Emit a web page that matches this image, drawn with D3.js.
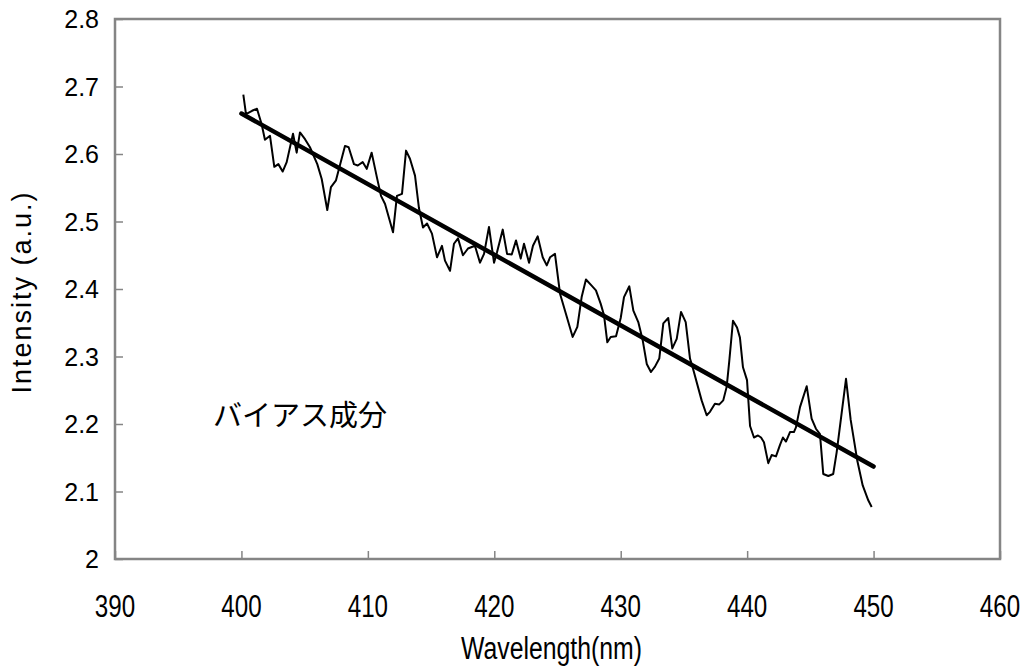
<!DOCTYPE html>
<html>
<head>
<meta charset="utf-8">
<script src="https://cdn.jsdelivr.net/npm/d3@7"></script>
<style>
  body { margin: 0; background: #fff; }
  svg { display: block; }
</style>
</head>
<body>
<svg id="chart" width="1028" height="668"></svg>
<script>
// measured spectrum (nm)
let wavelength = [400.15,400.36,400.84,401.23,401.60,401.86,402.26,402.60,402.92,403.26,403.58,404.08,404.37,404.63,405.03,405.42,406.00,406.35,406.79,407.08,407.48,408.19,408.48,408.90,409.20,409.59,409.91,410.30,410.72,411.04,411.36,411.99,412.30,412.70,413.02,413.33,413.73,414.04,414.36,414.68,415.07,415.47,415.86,416.10,416.50,416.81,417.13,417.52,417.92,418.47,418.87,419.19,419.58,419.98,420.21,420.67,421.01,421.38,421.72,422.09,422.35,422.75,423.06,423.43,423.83,424.15,424.41,424.80,425.20,425.67,426.20,426.57,426.91,427.25,427.70,428.04,428.42,428.68,428.94,429.21,429.63,430.00,430.26,430.68,431.00,431.39,431.74,432.06,432.39,432.71,433.05,433.37,433.76,434.08,434.43,434.77,435.14,435.48,435.72,436.40,436.80,437.06,437.45,437.80,438.11,438.38,438.59,438.88,439.20,439.43,439.67,439.99,440.23,440.54,440.86,441.10,441.33,441.67,441.94,442.28,442.60,442.83,443.07,443.39,443.70,443.86,444.18,444.71,445.10,445.44,445.76,446.02,446.42,446.81,447.08,447.82,448.19,448.71,449.14,449.58,449.85]
let intensity = [2.688,2.659,2.664,2.667,2.644,2.621,2.627,2.581,2.585,2.574,2.588,2.630,2.602,2.632,2.622,2.610,2.585,2.563,2.517,2.551,2.561,2.612,2.610,2.585,2.583,2.588,2.578,2.602,2.565,2.538,2.526,2.484,2.538,2.541,2.605,2.593,2.568,2.520,2.491,2.497,2.482,2.447,2.464,2.442,2.427,2.467,2.475,2.450,2.460,2.464,2.439,2.452,2.492,2.439,2.454,2.488,2.452,2.451,2.472,2.445,2.467,2.439,2.464,2.478,2.447,2.435,2.447,2.452,2.393,2.363,2.329,2.344,2.388,2.414,2.405,2.398,2.378,2.361,2.321,2.329,2.330,2.357,2.388,2.404,2.368,2.351,2.324,2.289,2.277,2.285,2.297,2.349,2.357,2.312,2.326,2.366,2.351,2.297,2.282,2.235,2.213,2.218,2.230,2.229,2.235,2.255,2.294,2.353,2.343,2.328,2.284,2.265,2.197,2.180,2.183,2.180,2.173,2.142,2.154,2.152,2.169,2.180,2.174,2.188,2.188,2.195,2.225,2.256,2.208,2.193,2.185,2.126,2.123,2.126,2.158,2.267,2.206,2.146,2.109,2.087,2.077]

// linear bias component
let fitX = [400, 450]
let fitY = [2.660, 2.137]

let xTicks = [390, 400, 410, 420, 430, 440, 450, 460]
let yTicks = [2, 2.1, 2.2, 2.3, 2.4, 2.5, 2.6, 2.7, 2.8]

let svg = d3.select("#chart")
let plotLeft = 115, plotTop = 19, plotRight = 1000, plotBottom = 559
let frameColor = "#858585"
let narrowFont = "'Liberation Sans', Arial, sans-serif"

let x = d3.scaleLinear().domain([390, 460]).range([plotLeft, plotRight])
let y = d3.scaleLinear().domain([2, 2.8]).range([plotBottom, plotTop])

// ticks point inward
let xAxis = d3.axisTop(x).tickValues(xTicks).tickSize(8).tickFormat("")
let yAxis = d3.axisRight(y).tickValues(yTicks).tickSize(8).tickFormat("")

svg.append("g").attr("transform", "translate(0," + plotBottom + ")").call(xAxis)
svg.append("g").attr("transform", "translate(" + plotLeft + ",0)").call(yAxis)
svg.selectAll(".domain").remove()
svg.selectAll(".tick line").attr("stroke", frameColor).attr("stroke-width", 1.5)

svg.append("rect")
  .attr("x", plotLeft).attr("y", plotTop)
  .attr("width", plotRight - plotLeft).attr("height", plotBottom - plotTop)
  .attr("fill", "none").attr("stroke", frameColor).attr("stroke-width", 2.5)

// condensed gothic look for x labels
svg.selectAll(".xlab").data(xTicks).enter().append("text")
  .attr("transform", d => "translate(" + x(d) + "," + (plotBottom + 58) + ") scale(0.78,1)")
  .attr("text-anchor", "middle")
  .style("font-family", narrowFont)
  .style("font-size", "31px")
  .text(d => d)

svg.selectAll(".ylab").data(yTicks).enter().append("text")
  .attr("x", plotLeft - 16).attr("y", d => y(d) + 9)
  .attr("text-anchor", "end")
  .style("font-family", "'Liberation Sans', Arial, sans-serif")
  .style("font-size", "25px")
  .text(d => d3.format(".1~f")(d))

svg.append("text")
  .attr("transform", "translate(" + ((plotLeft + plotRight) / 2 - 6) + ",659) scale(0.8,1)")
  .attr("text-anchor", "middle")
  .style("font-family", narrowFont)
  .style("font-size", "31px")
  .text("Wavelength(nm)")

svg.append("text")
  .attr("transform", "translate(31,292) rotate(-90)")
  .attr("text-anchor", "middle")
  .style("font-family", "'Liberation Sans', Arial, sans-serif")
  .style("font-size", "27px")
  .style("letter-spacing", "2px")
  .text("Intensity (a.u.)")

let line = d3.line().x(d => x(d[0])).y(d => y(d[1]))

svg.append("path")
  .datum(d3.zip(wavelength, intensity))
  .attr("d", line)
  .attr("fill", "none").attr("stroke", "#000").attr("stroke-width", 2)
  .attr("stroke-linejoin", "round")

svg.append("path")
  .datum(d3.zip(fitX, fitY))
  .attr("d", line)
  .attr("fill", "none").attr("stroke", "#000").attr("stroke-width", 4.5)
  .attr("stroke-linecap", "round")

svg.append("text")
  .attr("x", 213).attr("y", 426)
  .style("font-family", "'Noto Sans CJK JP', sans-serif")
  .style("font-size", "29px")
  .text("バイアス成分")
</script>
</body>
</html>
